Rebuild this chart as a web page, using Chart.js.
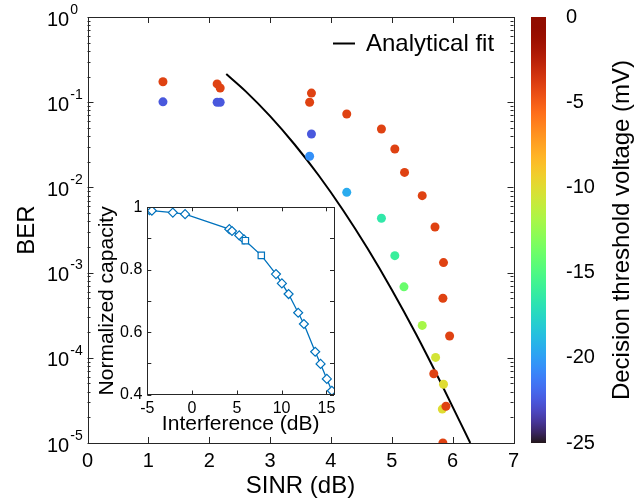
<!DOCTYPE html>
<html>
<head>
<meta charset="utf-8">
<script src="https://cdn.jsdelivr.net/npm/chart.js@4.4.0/dist/chart.umd.min.js"></script>
<style>
  html, body { margin: 0; padding: 0; background: #fff; }
  #wrap { position: relative; width: 636px; height: 502px; }
  #main { position: absolute; left: 0; top: 0; }
  #inset { position: absolute; left: 90px; top: 195px; }
</style>
</head>
<body>
<div id="wrap">
  <canvas id="main" width="636" height="502"></canvas>
  <canvas id="inset" width="255" height="245"></canvas>
</div>
<script>
// ---- data ----
// points measured with threshold held near -4 mV
const redSinr = [1.24, 2.13, 2.18, 3.68, 3.65, 4.26, 4.83, 5.05, 5.21, 5.50, 5.71, 5.85, 5.84, 5.95, 5.69, 5.89, 5.84];
const redBer = [0.174, 0.164, 0.147, 0.128, 0.100, 0.0727, 0.0484, 0.0282, 0.0150, 0.0080, 0.00343, 1.31e-3, 5.0e-4, 1.8e-4, 6.5e-5, 2.7e-5, 1.0e-5];
const redVth = -4;
// points with swept threshold
const sweepSinr = [1.24, 2.13, 2.18, 3.68, 3.65, 4.26, 4.83, 5.05, 5.20, 5.50, 5.72, 5.85, 5.83];
const sweepBer = [0.101, 0.100, 0.100, 0.0424, 0.0232, 0.00875, 0.00434, 0.00158, 6.8e-4, 2.4e-4, 1.01e-4, 4.9e-5, 2.5e-5];
const sweepVth = [-22.5, -22.5, -22.5, -22.5, -20.5, -19.5, -16.5, -16, -14, -12, -10.5, -10, -10];
// analytical fit curve
const fitSinr = [2.28, 2.6, 3.0, 3.4, 3.8, 4.2, 4.6, 5.0, 5.4, 5.8, 6.29];
const fitBer = [0.214, 0.134, 0.0686, 0.0321, 0.0138, 5.4e-3, 1.93e-3, 6.3e-4, 1.89e-4, 5.2e-5, 1.0e-5];
// inset: normalized capacity vs interference
const intfDb = [-4.76, -4.49, -2.15, -0.78, 4.16, 4.46, 5.27, 5.80, 5.95, 7.73, 9.37, 10.03, 10.78, 11.85, 12.49, 13.75, 14.35, 15.05, 15.61];
const normCap = [0.991, 0.989, 0.983, 0.978, 0.930, 0.924, 0.910, 0.897, 0.893, 0.846, 0.786, 0.756, 0.722, 0.662, 0.626, 0.537, 0.498, 0.450, 0.412];
const capMarker = ['d','d','d','d','d','d','d','d','s','s','d','d','d','d','d','d','d','d','d'];

const xTicks = [0, 1, 2, 3, 4, 5, 6, 7];
const yExps = [0, -1, -2, -3, -4, -5];
const cbMin = -25, cbMax = 0;
const insetXTicks = [-5, 0, 5, 10, 15];
const insetYTicks = [0.4, 0.5, 0.6, 0.7, 0.8, 0.9, 1.0];

const FONT = '"Liberation Sans", Arial, Helvetica, sans-serif';
const AX = '#262626';
const MATLAB_BLUE = '#0072BD';

// turbo colormap (polynomial approximation)
function turbo(t) {
  t = Math.min(1, Math.max(0, t));
  const r = 0.13572138 + t*(4.61539260 + t*(-42.66032258 + t*(132.13108234 + t*(-152.94239396 + t*59.28637943))));
  const g = 0.09140261 + t*(2.19418839 + t*(4.84296658 + t*(-14.18503333 + t*(4.27729857 + t*2.82956604))));
  const b = 0.10667330 + t*(12.64194608 + t*(-60.58204836 + t*(110.36276771 + t*(-89.90310912 + t*27.34824973))));
  const c = v => Math.round(255 * Math.min(1, Math.max(0, v)));
  return `rgb(${c(r)},${c(g)},${c(b)})`;
}
const vColor = v => turbo((v - cbMin) / (cbMax - cbMin));

const toXY = (xs, ys) => xs.map((x, i) => ({ x: x, y: ys[i] }));

// keep the plot box where the figure has it
const fixH = h => s => { s.height = h; s.paddingLeft = 0; s.paddingRight = 0; };
const fixW = w => s => { s.width = w; s.paddingTop = 0; s.paddingBottom = 0; };

const mainDecor = {
  id: 'mainDecor',
  afterDraw(chart) {
    const { ctx, chartArea: a, scales: { x, y, cb } } = chart;
    ctx.save();
    ctx.strokeStyle = AX;
    ctx.lineWidth = 1;
    ctx.strokeRect(Math.round(a.left) + 0.5, Math.round(a.top) + 0.5, Math.round(a.right - a.left), Math.round(a.bottom - a.top));
    ctx.beginPath();
    xTicks.forEach(v => {
      const p = Math.round(x.getPixelForValue(v)) + 0.5;
      ctx.moveTo(p, a.bottom); ctx.lineTo(p, a.bottom - 6);
      ctx.moveTo(p, a.top); ctx.lineTo(p, a.top + 6);
    });
    yExps.forEach(e => {
      for (let k = 1; k <= 9; k++) {
        const val = k * Math.pow(10, e);
        if (val > 1.0001) break;
        const p = Math.round(y.getPixelForValue(val)) + 0.5;
        const len = k === 1 ? 6 : 3;
        ctx.moveTo(a.left, p); ctx.lineTo(a.left + len, p);
        ctx.moveTo(a.right, p); ctx.lineTo(a.right - len, p);
      }
    });
    ctx.stroke();

    // y tick labels with superscript exponents
    ctx.fillStyle = '#000';
    ctx.textBaseline = 'middle';
    ctx.textAlign = 'left';
    yExps.forEach(e => {
      const p = y.getPixelForValue(Math.pow(10, e));
      ctx.font = '20px ' + FONT;
      ctx.fillText('10', 47, p + 3);
      const w = ctx.measureText('10').width;
      ctx.font = '14px ' + FONT;
      ctx.fillText(e === 0 ? '0' : '-' + (-e), 47 + w + 1, p - 7);
    });

    // colorbar
    const top = cb.getPixelForValue(cbMax), bot = cb.getPixelForValue(cbMin);
    const grad = ctx.createLinearGradient(0, bot, 0, top);
    for (let i = 0; i <= 40; i++) grad.addColorStop(i / 40, turbo(i / 40));
    ctx.fillStyle = grad;
    ctx.fillRect(531, top, 15, bot - top);

    ctx.save();
    ctx.translate(622, (top + bot) / 2);
    ctx.rotate(-Math.PI / 2);
    ctx.fillStyle = '#000';
    ctx.font = '24px ' + FONT;
    ctx.textAlign = 'center';
    ctx.textBaseline = 'middle';
    ctx.fillText('Decision threshold voltage (mV)', 0, 0);
    ctx.restore();

    // legend
    ctx.strokeStyle = '#000';
    ctx.lineWidth = 2;
    ctx.beginPath();
    ctx.moveTo(333, 43.5); ctx.lineTo(355, 43.5);
    ctx.stroke();
    ctx.fillStyle = '#000';
    ctx.font = '24px ' + FONT;
    ctx.textAlign = 'left';
    ctx.textBaseline = 'middle';
    ctx.fillText('Analytical fit', 366, 44);
    ctx.restore();
  }
};

new Chart(document.getElementById('main').getContext('2d'), {
  type: 'scatter',
  data: {
    datasets: [
      {
        label: 'Vth -4 mV',
        data: toXY(redSinr, redBer),
        backgroundColor: vColor(redVth),
        borderWidth: 0,
        pointRadius: 4.5,
      },
      {
        label: 'Vth swept',
        data: toXY(sweepSinr, sweepBer),
        backgroundColor: sweepVth.map(vColor),
        borderWidth: 0,
        pointRadius: 4.5,
      },
      {
        label: 'Analytical fit',
        type: 'line',
        data: toXY(fitSinr, fitBer),
        borderColor: '#000',
        borderWidth: 2,
        pointRadius: 0,
        fill: false,
        cubicInterpolationMode: 'monotone',
      },
    ],
  },
  options: {
    responsive: false,
    animation: false,
    events: [],
    layout: { padding: { top: 17, left: 0, right: 0, bottom: 0 } },
    plugins: { legend: { display: false }, tooltip: { enabled: false } },
    scales: {
      x: {
        type: 'linear', position: 'bottom', min: 0, max: 7,
        grid: { display: false, drawTicks: false }, border: { display: false },
        ticks: { stepSize: 1, maxRotation: 0, color: '#000', padding: 6, font: { size: 20, family: FONT } },
        title: { display: true, text: 'SINR (dB)', color: '#000', font: { size: 24, family: FONT }, padding: { top: 0, bottom: 1 } },
        afterFit: fixH(59),
      },
      y: {
        type: 'logarithmic', position: 'left', min: 1e-5, max: 1,
        grid: { display: false, drawTicks: false }, border: { display: false },
        ticks: { display: false },
        title: { display: true, text: 'BER', color: '#000', font: { size: 24, family: FONT }, padding: { top: 13, bottom: 0 } },
        afterFit: fixW(87.5),
      },
      cb: {
        type: 'linear', position: 'right', min: cbMin, max: cbMax,
        grid: { display: false, drawTicks: false }, border: { display: false },
        ticks: { stepSize: 5, color: '#000', padding: 52.5, font: { size: 20, family: FONT } },
        afterFit: fixW(122.5),
      },
    },
  },
  plugins: [mainDecor],
});

// ---- inset ----
const insetDecor = {
  id: 'insetDecor',
  beforeDatasetsDraw(chart) {
    const { ctx, chartArea: a } = chart;
    ctx.save();
    ctx.fillStyle = '#fff';
    ctx.fillRect(a.left, a.top, a.right - a.left, a.bottom - a.top);
    ctx.restore();
  },
  afterDraw(chart) {
    const { ctx, chartArea: a, scales: { x, y } } = chart;
    ctx.save();
    ctx.strokeStyle = AX;
    ctx.lineWidth = 1;
    ctx.strokeRect(Math.round(a.left) + 0.5, Math.round(a.top) + 0.5, Math.round(a.right - a.left), Math.round(a.bottom - a.top));
    ctx.beginPath();
    insetXTicks.forEach(v => {
      const p = Math.round(x.getPixelForValue(v)) + 0.5;
      ctx.moveTo(p, a.bottom); ctx.lineTo(p, a.bottom - 4);
      ctx.moveTo(p, a.top); ctx.lineTo(p, a.top + 4);
    });
    insetYTicks.forEach(v => {
      const p = Math.round(y.getPixelForValue(v)) + 0.5;
      ctx.moveTo(a.left, p); ctx.lineTo(a.left + 4, p);
      ctx.moveTo(a.right, p); ctx.lineTo(a.right - 4, p);
    });
    ctx.stroke();
    ctx.restore();
  }
};

new Chart(document.getElementById('inset').getContext('2d'), {
  type: 'line',
  data: {
    datasets: [{
      label: 'Normalized capacity',
      data: toXY(intfDb, normCap),
      borderColor: MATLAB_BLUE,
      borderWidth: 1.3,
      backgroundColor: '#fff',
      pointBorderColor: MATLAB_BLUE,
      pointBorderWidth: 1.2,
      pointRadius: 4.5,
      pointStyle: capMarker.map(m => m === 's' ? 'rect' : 'rectRot'),
      tension: 0,
      fill: false,
    }],
  },
  options: {
    responsive: false,
    animation: false,
    events: [],
    layout: { padding: { top: 12.3, right: 11, left: 0, bottom: 0 } },
    plugins: { legend: { display: false }, tooltip: { enabled: false } },
    scales: {
      x: {
        type: 'linear', min: -5, max: 15.85,
        grid: { display: false, drawTicks: false }, border: { display: false },
        ticks: { stepSize: 5, includeBounds: false, maxRotation: 0, color: '#000', padding: 4, font: { size: 16, family: FONT } },
        title: { display: true, text: 'Interference (dB)', color: '#000', font: { size: 21, family: FONT }, padding: { top: 0, bottom: 3.4 } },
        afterFit: fixH(45.5),
      },
      y: {
        type: 'linear', min: 0.4, max: 1,
        grid: { display: false, drawTicks: false }, border: { display: false },
        ticks: { stepSize: 0.2, color: '#000', padding: 5, font: { size: 16, family: FONT },
          callback: v => Math.abs(v - 1) < 1e-9 ? '1' : v.toFixed(1) },
        title: { display: true, text: 'Normalized capacity', color: '#000', font: { size: 21, family: FONT }, padding: { top: 4.4, bottom: 0 } },
        afterFit: fixW(57.3),
      },
    },
  },
  plugins: [insetDecor],
});
</script>
</body>
</html>
